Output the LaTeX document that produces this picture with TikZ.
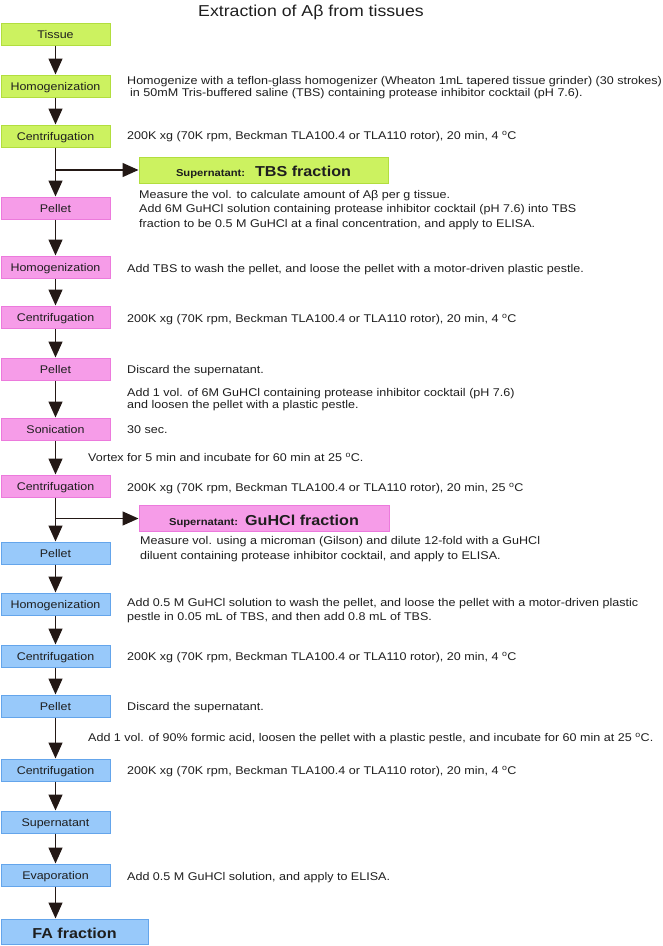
\documentclass[tikz,border=0pt]{standalone}
\usepackage{fontspec}
\setmainfont{Liberation Sans}[FakeStretch=1.12]
\usetikzlibrary{arrows.meta}
\definecolor{gfill}{RGB}{204,242,96}
\definecolor{gdraw}{RGB}{178,222,62}
\definecolor{pfill}{RGB}{246,156,232}
\definecolor{pdraw}{RGB}{236,122,220}
\definecolor{bfill}{RGB}{152,201,250}
\definecolor{bdraw}{RGB}{100,165,235}
\definecolor{arrc}{RGB}{35,24,21}
\definecolor{txtc}{RGB}{30,30,30}
\newcommand{\degC}{\textsuperscript{o}C}
\begin{document}
\begin{tikzpicture}[x=1pt,y=-1pt,
  box/.style={draw, line width=1pt, minimum width=109pt, minimum height=22pt, inner sep=0pt,
    font=\fontsize{11.1}{13}\selectfont, text height=9.6pt, text depth=0pt, text=txtc},
  gbox/.style={box, fill=gfill, draw=gdraw},
  pbox/.style={box, fill=pfill, draw=pdraw},
  bbox/.style={box, fill=bfill, draw=bdraw},
  txt/.style={anchor=base west, inner sep=0pt, font=\fontsize{11.2}{13}\selectfont, text=txtc},
  arr/.style={draw=arrc, line width=1.4pt, -{Triangle[width=14pt,length=16pt]}},
]
\useasboundingbox (0,0) rectangle (662,946);

% title
\node[inner sep=0pt, font=\fontsize{15.8}{18}\selectfont, text=txtc] (title) at (311,12) {Extraction of Aβ from tissues};

% boxes
\node[gbox] (tissue) at (55.5,34) {Tissue};
\node[gbox] (hom1) at (55.5,86) {Homogenization};
\node[gbox] (cen1) at (55.5,136) {Centrifugation};
\node[gbox, minimum width=249pt, minimum height=26pt, text height=13pt, text depth=0pt] (tbs) at (263.5,170)
  {\bfseries\fontsize{10}{12}\selectfont Supernatant:\hspace{10pt}\fontsize{14.4}{16}\selectfont TBS fraction};
\node[pbox] (pel1) at (55.5,208) {Pellet};
\node[pbox] (hom2) at (55.5,267) {Homogenization};
\node[pbox] (cen2) at (55.5,317) {Centrifugation};
\node[pbox] (pel2) at (55.5,369) {Pellet};
\node[pbox] (son) at (55.5,429) {Sonication};
\node[pbox] (cen3) at (55.5,486) {Centrifugation};
\node[pbox, minimum width=250pt, minimum height=26pt, text height=13pt, text depth=0pt] (guhcl) at (264,518.5)
  {\bfseries\fontsize{10}{12}\selectfont Supernatant:\hspace{7pt}\fontsize{14.4}{16}\selectfont GuHCl fraction};
\node[bbox] (pel3) at (55.5,553) {Pellet};
\node[bbox] (hom3) at (55.5,604) {Homogenization};
\node[bbox] (cen4) at (55.5,656) {Centrifugation};
\node[bbox] (pel4) at (55.5,706) {Pellet};
\node[bbox] (cen5) at (55.5,770) {Centrifugation};
\node[bbox] (sup) at (55.5,822) {Supernatant};
\node[bbox] (evap) at (55.5,875) {Evaporation};
\node[bbox, minimum width=147pt, minimum height=25pt, text height=13pt, text depth=0pt] (fa) at (74.5,931.5)
  {\bfseries\fontsize{14.4}{16}\selectfont FA fraction};

% connectors
\coordinate (br1) at (55.5,170);
\coordinate (br2) at (55.5,518.5);
\draw[arr] (tissue) -- (hom1);
\draw[arr] (hom1) -- (cen1);
\draw[arr] (cen1) -- (pel1);
\draw[arr] (br1) -- (tbs.west);
\draw[arr] (pel1) -- (hom2);
\draw[arr] (hom2) -- (cen2);
\draw[arr] (cen2) -- (pel2);
\draw[arr] (pel2) -- (son);
\draw[arr] (son) -- (cen3);
\draw[arr] (cen3) -- (pel3);
\draw[arr] (br2) -- (guhcl.west);
\draw[arr] (pel3) -- (hom3);
\draw[arr] (hom3) -- (cen4);
\draw[arr] (cen4) -- (pel4);
\draw[arr] (pel4) -- (cen5);
\draw[arr] (cen5) -- (sup);
\draw[arr] (sup) -- (evap);
\draw[arr] (evap) -- (evap |- fa.north);

% texts
\node[txt] (h1a) at (127,84) {Homogenize with a teflon-glass homogenizer (Wheaton 1mL tapered tissue grinder) (30 strokes)};
\node[txt] (h1b) at (130,96) {in 50mM Tris-buffered saline (TBS) containing protease inhibitor cocktail (pH 7.6).};
\node[txt] (c1) at (127,139) {200K xg (70K rpm, Beckman TLA100.4 or TLA110 rotor), 20 min, 4 \degC};
\node[txt] (t1) at (139,198) {Measure the vol. to calculate amount of Aβ per g tissue.};
\node[txt] (t2) at (139,212.5) {Add 6M GuHCl solution containing protease inhibitor cocktail (pH 7.6) into TBS};
\node[txt] (t3) at (139,227) {fraction to be 0.5 M GuHCl at a final concentration, and apply to ELISA.};
\node[txt] (h2) at (127,272) {Add TBS to wash the pellet, and loose the pellet with a motor-driven plastic pestle.};
\node[txt] (c2) at (127,322) {200K xg (70K rpm, Beckman TLA100.4 or TLA110 rotor), 20 min, 4 \degC};
\node[txt] (p2) at (127,373) {Discard the supernatant.};
\node[txt] (g1) at (127,396) {Add 1 vol. of 6M GuHCl containing protease inhibitor cocktail (pH 7.6)};
\node[txt] (g2) at (127,408.5) {and loosen the pellet with a plastic pestle.};
\node[txt] (s1) at (127,433) {30 sec.};
\node[txt] (v1) at (88,461) {Vortex for 5 min and incubate for 60 min at 25 \degC.};
\node[txt] (c3) at (127,491) {200K xg (70K rpm, Beckman TLA100.4 or TLA110 rotor), 20 min, 25 \degC};
\node[txt] (m1) at (140,544) {Measure vol. using a microman (Gilson) and dilute 12-fold with a GuHCl};
\node[txt] (m2) at (140,559) {diluent containing protease inhibitor cocktail, and apply to ELISA.};
\node[txt] (h3a) at (127,606.5) {Add 0.5 M GuHCl solution to wash the pellet, and loose the pellet with a motor-driven plastic};
\node[txt] (h3b) at (127,620) {pestle in 0.05 mL of TBS, and then add 0.8 mL of TBS.};
\node[txt] (c4) at (127,660) {200K xg (70K rpm, Beckman TLA100.4 or TLA110 rotor), 20 min, 4 \degC};
\node[txt] (p4) at (127,710) {Discard the supernatant.};
\node[txt] (f1) at (88,741) {Add 1 vol. of 90\% formic acid, loosen the pellet with a plastic pestle, and incubate for 60 min at 25 \degC.};
\node[txt] (c5) at (127,774) {200K xg (70K rpm, Beckman TLA100.4 or TLA110 rotor), 20 min, 4 \degC};
\node[txt] (e1) at (127,880) {Add 0.5 M GuHCl solution, and apply to ELISA.};
\end{tikzpicture}
\end{document}
